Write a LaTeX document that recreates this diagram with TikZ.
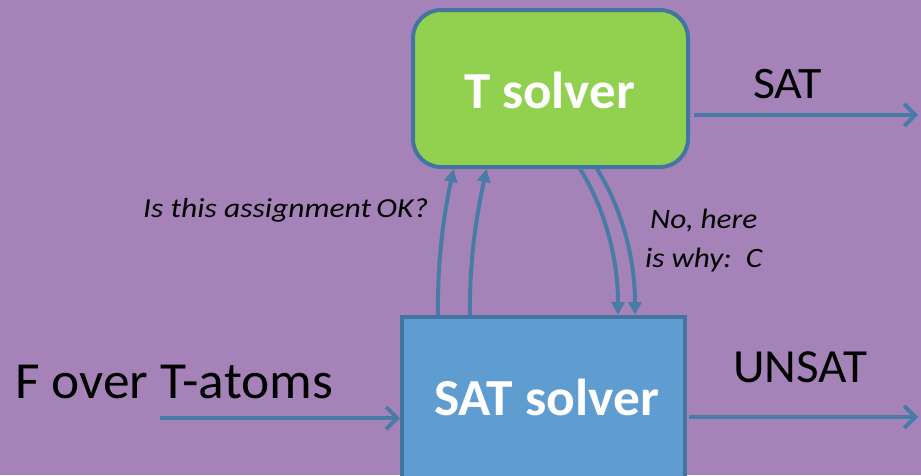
\documentclass[tikz,border=0pt]{standalone}
\usepackage{fontspec}
\usepackage{graphicx}
\setmainfont{Carlito}
\usetikzlibrary{arrows.meta}
\definecolor{bgpurple}{RGB}{165,131,185}
\definecolor{edgeblue}{RGB}{68,117,160}
\definecolor{arrowblue}{RGB}{72,124,166}
\definecolor{tgreen}{RGB}{146,208,80}
\definecolor{satblue}{RGB}{95,157,209}
% set a text at a fixed width, keeping its height
\newcommand{\fitw}[2]{\resizebox{#1}{\height}{#2}}
\tikzset{
  solverbox/.style={draw=edgeblue, line width=4pt, text=white,
    font=\fontsize{52}{60}\selectfont\bfseries, inner sep=0pt},
  flow/.style={draw=arrowblue, line width=4pt,
    -{Straight Barb[length=11pt,width=22pt,line width=4pt]}},
  query/.style={draw=arrowblue, line width=4pt,
    -{Triangle[length=13pt,width=13pt]}},
  biglabel/.style={text=black, inner sep=0pt, anchor=base west},
  smalllabel/.style={font=\fontsize{28}{36}\selectfont\itshape, text=black,
    inner sep=0pt, anchor=base west}
}
\begin{document}
\begin{tikzpicture}[x=1pt,y=-1pt]
  % page frame and background
  \fill[bgpurple] (0,0) rectangle (921,475);
  \useasboundingbox (0,0) rectangle (921,475);
  \begin{scope}
    \clip (0,0) rectangle (921,475);
    % solvers
    \node[solverbox, fill=tgreen, rounded corners=28pt,
          minimum width=275pt, minimum height=157pt] (tsolver) at (550.5,88.5) {};
    \node[solverbox, fill=satblue,
          minimum width=283pt, minimum height=166pt] (satsolver) at (543.5,400) {};
  \end{scope}
  \node[solverbox, draw=none, anchor=base west] (tsolvertext) at (462,108) {\fitw{171pt}{T solver}};
  \node[solverbox, draw=none, anchor=base west] (satsolvertext) at (432,415) {\fitw{225pt}{SAT solver}};

  % outside endpoints
  \coordinate (satout) at (918,115);
  \coordinate (unsatout) at (918,417);
  \coordinate (fin) at (160,418);

  % outputs and input
  \draw[flow] (tsolver.east |- satout) ++(4,0) -- (satout);
  \draw[flow] (satsolver.east |- unsatout) ++(2,0) -- (unsatout);
  \draw[flow] (fin) -- (satsolver.west |- fin);

  % queries from SAT solver to T solver
  \draw[query] ([xshift=-105.5pt]satsolver.north) .. controls (437,250) and (447,200) .. ([xshift=-97pt]tsolver.south);
  \draw[query] ([xshift=-73.5pt]satsolver.north) .. controls (469,250) and (480,200) .. ([xshift=-64pt]tsolver.south);

  % answers from T solver back
  \draw[query] ([xshift=29.5pt]tsolver.south) .. controls (600,200) and (618,250) .. ([xshift=74.5pt]satsolver.north);
  \draw[query] ([xshift=46.5pt]tsolver.south) .. controls (617,200) and (635,250) .. ([xshift=91.5pt]satsolver.north);

  % labels
  \node[biglabel, font=\fontsize{45}{54}\selectfont] (satlab) at (753,98) {\fitw{69pt}{SAT}};
  \node[biglabel, font=\fontsize{47.5}{56}\selectfont] (unsatlab) at (733,382) {\fitw{134pt}{UNSAT}};
  \node[biglabel, font=\fontsize{52}{60}\selectfont] (flab) at (15,398) {\fitw{318pt}{F over T-atoms}};
  \node[smalllabel, font=\fontsize{27.5}{36}\selectfont\itshape] (asklab) at (143,217) {\fitw{285pt}{Is this assignment\,OK?}};
  \node[smalllabel] (whylab) at (650,228) {\fitw{107pt}{No, here}};
  \node[smalllabel] (whylabb) at (645,267) {\fitw{117pt}{is why:\ \ C}};
\end{tikzpicture}
\end{document}
